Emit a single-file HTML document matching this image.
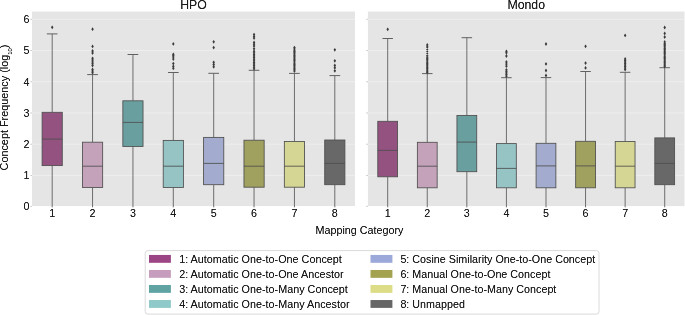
<!DOCTYPE html>
<html><head><meta charset="utf-8"><title>Concept Frequency by Mapping Category</title>
<style>
html,body{margin:0;padding:0;background:#fff;}
body{width:685px;height:315px;overflow:hidden;}
svg{display:block;will-change:transform;}
text{font-family:"Liberation Sans", sans-serif;fill:#1a1a1a;}
</style></head><body>
<svg width="685" height="315" viewBox="0 0 685 315">
<rect x="0" y="0" width="685" height="315" fill="#ffffff"/>
<defs><filter id="ink" filterUnits="userSpaceOnUse" x="0" y="0" width="685" height="315" color-interpolation-filters="sRGB"><feComponentTransfer><feFuncA type="table" tableValues="0 0.16 0.52 0.8 0.95 1"/></feComponentTransfer></filter></defs>

<rect x="32.0" y="11.55" width="323.0" height="194.55" fill="#e5e5e5"/>
<line x1="32.0" x2="355.0" y1="175.46" y2="175.46" stroke="#eeeeee" stroke-width="1"/>
<line x1="32.0" x2="355.0" y1="144.22" y2="144.22" stroke="#eeeeee" stroke-width="1"/>
<line x1="32.0" x2="355.0" y1="112.98" y2="112.98" stroke="#eeeeee" stroke-width="1"/>
<line x1="32.0" x2="355.0" y1="81.74" y2="81.74" stroke="#eeeeee" stroke-width="1"/>
<line x1="32.0" x2="355.0" y1="50.50" y2="50.50" stroke="#eeeeee" stroke-width="1"/>
<line x1="32.0" x2="355.0" y1="19.26" y2="19.26" stroke="#eeeeee" stroke-width="1"/>
<line x1="30.50" x2="31.80" y1="206.40" y2="206.40" stroke="#a8a8a8" stroke-width="0.8"/>
<line x1="30.50" x2="31.80" y1="175.46" y2="175.46" stroke="#a8a8a8" stroke-width="0.8"/>
<line x1="30.50" x2="31.80" y1="144.22" y2="144.22" stroke="#a8a8a8" stroke-width="0.8"/>
<line x1="30.50" x2="31.80" y1="112.98" y2="112.98" stroke="#a8a8a8" stroke-width="0.8"/>
<line x1="30.50" x2="31.80" y1="81.74" y2="81.74" stroke="#a8a8a8" stroke-width="0.8"/>
<line x1="30.50" x2="31.80" y1="50.50" y2="50.50" stroke="#a8a8a8" stroke-width="0.8"/>
<line x1="30.50" x2="31.80" y1="19.26" y2="19.26" stroke="#a8a8a8" stroke-width="0.8"/>
<line x1="52.19" x2="52.19" y1="33.9" y2="112.3" stroke="#606060" stroke-width="0.9"/>
<line x1="52.19" x2="52.19" y1="165.6" y2="207.29999999999998" stroke="#606060" stroke-width="0.9"/>
<line x1="46.84" x2="57.53" y1="33.9" y2="33.9" stroke="#606060" stroke-width="1"/>
<rect x="42.09" y="112.3" width="20.19" height="53.30" fill="#93527f" stroke="#4e4e4e" stroke-width="0.85"/>
<line x1="42.09" x2="62.28" y1="139.1" y2="139.1" stroke="#4e4e4e" stroke-width="0.85"/>
<path d="M52.19 25.40L53.44 27.30L52.19 29.20L50.94 27.30Z" fill="#3a3a3a"/>
<line x1="92.56" x2="92.56" y1="74.6" y2="142.2" stroke="#606060" stroke-width="0.9"/>
<line x1="92.56" x2="92.56" y1="187.5" y2="207.29999999999998" stroke="#606060" stroke-width="0.9"/>
<line x1="87.22" x2="97.91" y1="74.6" y2="74.6" stroke="#606060" stroke-width="1"/>
<rect x="82.47" y="142.2" width="20.19" height="45.30" fill="#c4a2ba" stroke="#4e4e4e" stroke-width="0.85"/>
<line x1="82.47" x2="102.66" y1="166.2" y2="166.2" stroke="#4e4e4e" stroke-width="0.85"/>
<path d="M92.56 27.30L93.81 29.20L92.56 31.10L91.31 29.20ZM92.56 44.50L93.81 46.40L92.56 48.30L91.31 46.40ZM92.56 49.10L93.81 51.00L92.56 52.90L91.31 51.00ZM92.56 51.10L93.81 53.00L92.56 54.90L91.31 53.00ZM92.56 56.40L93.81 58.30L92.56 60.20L91.31 58.30ZM92.56 58.20L93.81 60.10L92.56 62.00L91.31 60.10ZM92.56 60.00L93.81 61.90L92.56 63.80L91.31 61.90ZM92.56 61.80L93.81 63.70L92.56 65.60L91.31 63.70ZM92.56 63.60L93.81 65.50L92.56 67.40L91.31 65.50ZM92.56 67.60L93.81 69.50L92.56 71.40L91.31 69.50ZM92.56 69.20L93.81 71.10L92.56 73.00L91.31 71.10ZM92.56 70.80L93.81 72.70L92.56 74.60L91.31 72.70Z" fill="#3a3a3a"/>
<line x1="132.94" x2="132.94" y1="54.5" y2="100.8" stroke="#606060" stroke-width="0.9"/>
<line x1="132.94" x2="132.94" y1="146.5" y2="207.29999999999998" stroke="#606060" stroke-width="0.9"/>
<line x1="127.59" x2="138.28" y1="54.5" y2="54.5" stroke="#606060" stroke-width="1"/>
<rect x="122.84" y="100.8" width="20.19" height="45.70" fill="#6a9fa0" stroke="#4e4e4e" stroke-width="0.85"/>
<line x1="122.84" x2="143.03" y1="122.4" y2="122.4" stroke="#4e4e4e" stroke-width="0.85"/>
<line x1="173.31" x2="173.31" y1="72.5" y2="140.4" stroke="#606060" stroke-width="0.9"/>
<line x1="173.31" x2="173.31" y1="187.5" y2="207.29999999999998" stroke="#606060" stroke-width="0.9"/>
<line x1="167.97" x2="178.66" y1="72.5" y2="72.5" stroke="#606060" stroke-width="1"/>
<rect x="163.22" y="140.4" width="20.19" height="47.10" fill="#96c4c4" stroke="#4e4e4e" stroke-width="0.85"/>
<line x1="163.22" x2="183.41" y1="166.2" y2="166.2" stroke="#4e4e4e" stroke-width="0.85"/>
<path d="M173.31 42.00L174.56 43.90L173.31 45.80L172.06 43.90ZM173.31 52.40L174.56 54.30L173.31 56.20L172.06 54.30ZM173.31 53.70L174.56 55.60L173.31 57.50L172.06 55.60ZM173.31 55.00L174.56 56.90L173.31 58.80L172.06 56.90ZM173.31 57.20L174.56 59.10L173.31 61.00L172.06 59.10ZM173.31 61.70L174.56 63.60L173.31 65.50L172.06 63.60ZM173.31 64.40L174.56 66.30L173.31 68.20L172.06 66.30ZM173.31 66.40L174.56 68.30L173.31 70.20L172.06 68.30Z" fill="#3a3a3a"/>
<line x1="213.69" x2="213.69" y1="73.3" y2="137.4" stroke="#606060" stroke-width="0.9"/>
<line x1="213.69" x2="213.69" y1="184.7" y2="207.29999999999998" stroke="#606060" stroke-width="0.9"/>
<line x1="208.34" x2="219.03" y1="73.3" y2="73.3" stroke="#606060" stroke-width="1"/>
<rect x="203.59" y="137.4" width="20.19" height="47.30" fill="#a3acce" stroke="#4e4e4e" stroke-width="0.85"/>
<line x1="203.59" x2="223.78" y1="163.4" y2="163.4" stroke="#4e4e4e" stroke-width="0.85"/>
<path d="M213.69 39.90L214.94 41.80L213.69 43.70L212.44 41.80ZM213.69 45.70L214.94 47.60L213.69 49.50L212.44 47.60ZM213.69 60.40L214.94 62.30L213.69 64.20L212.44 62.30ZM213.69 62.60L214.94 64.50L213.69 66.40L212.44 64.50ZM213.69 64.90L214.94 66.80L213.69 68.70L212.44 66.80Z" fill="#3a3a3a"/>
<line x1="254.06" x2="254.06" y1="70.3" y2="140.2" stroke="#606060" stroke-width="0.9"/>
<line x1="254.06" x2="254.06" y1="187.2" y2="207.29999999999998" stroke="#606060" stroke-width="0.9"/>
<line x1="248.72" x2="259.41" y1="70.3" y2="70.3" stroke="#606060" stroke-width="1"/>
<rect x="243.97" y="140.2" width="20.19" height="47.00" fill="#a0a05f" stroke="#4e4e4e" stroke-width="0.85"/>
<line x1="243.97" x2="264.16" y1="166.2" y2="166.2" stroke="#4e4e4e" stroke-width="0.85"/>
<path d="M254.06 32.70L255.31 34.60L254.06 36.50L252.81 34.60ZM254.06 34.50L255.31 36.40L254.06 38.30L252.81 36.40ZM254.06 36.20L255.31 38.10L254.06 40.00L252.81 38.10ZM254.06 40.60L255.31 42.50L254.06 44.40L252.81 42.50ZM254.06 42.30L255.31 44.20L254.06 46.10L252.81 44.20ZM254.06 44.10L255.31 46.00L254.06 47.90L252.81 46.00ZM254.06 46.90L255.31 48.80L254.06 50.70L252.81 48.80ZM254.06 49.30L255.31 51.20L254.06 53.10L252.81 51.20ZM254.06 50.90L255.31 52.80L254.06 54.70L252.81 52.80ZM254.06 52.50L255.31 54.40L254.06 56.30L252.81 54.40ZM254.06 54.10L255.31 56.00L254.06 57.90L252.81 56.00ZM254.06 55.70L255.31 57.60L254.06 59.50L252.81 57.60ZM254.06 57.30L255.31 59.20L254.06 61.10L252.81 59.20ZM254.06 58.90L255.31 60.80L254.06 62.70L252.81 60.80ZM254.06 60.50L255.31 62.40L254.06 64.30L252.81 62.40ZM254.06 62.10L255.31 64.00L254.06 65.90L252.81 64.00ZM254.06 63.70L255.31 65.60L254.06 67.50L252.81 65.60ZM254.06 65.30L255.31 67.20L254.06 69.10L252.81 67.20ZM254.06 66.90L255.31 68.80L254.06 70.70L252.81 68.80Z" fill="#3a3a3a"/>
<line x1="294.44" x2="294.44" y1="73.4" y2="141.5" stroke="#606060" stroke-width="0.9"/>
<line x1="294.44" x2="294.44" y1="187.2" y2="207.29999999999998" stroke="#606060" stroke-width="0.9"/>
<line x1="289.09" x2="299.78" y1="73.4" y2="73.4" stroke="#606060" stroke-width="1"/>
<rect x="284.34" y="141.5" width="20.19" height="45.70" fill="#d5d693" stroke="#4e4e4e" stroke-width="0.85"/>
<line x1="284.34" x2="304.53" y1="166.2" y2="166.2" stroke="#4e4e4e" stroke-width="0.85"/>
<path d="M294.44 45.70L295.69 47.60L294.44 49.50L293.19 47.60ZM294.44 47.00L295.69 48.90L294.44 50.80L293.19 48.90ZM294.44 48.30L295.69 50.20L294.44 52.10L293.19 50.20ZM294.44 49.60L295.69 51.50L294.44 53.40L293.19 51.50ZM294.44 50.90L295.69 52.80L294.44 54.70L293.19 52.80ZM294.44 52.20L295.69 54.10L294.44 56.00L293.19 54.10ZM294.44 53.50L295.69 55.40L294.44 57.30L293.19 55.40ZM294.44 54.80L295.69 56.70L294.44 58.60L293.19 56.70ZM294.44 56.10L295.69 58.00L294.44 59.90L293.19 58.00ZM294.44 57.40L295.69 59.30L294.44 61.20L293.19 59.30ZM294.44 58.70L295.69 60.60L294.44 62.50L293.19 60.60ZM294.44 60.00L295.69 61.90L294.44 63.80L293.19 61.90ZM294.44 61.30L295.69 63.20L294.44 65.10L293.19 63.20ZM294.44 62.60L295.69 64.50L294.44 66.40L293.19 64.50ZM294.44 63.90L295.69 65.80L294.44 67.70L293.19 65.80ZM294.44 65.20L295.69 67.10L294.44 69.00L293.19 67.10ZM294.44 66.50L295.69 68.40L294.44 70.30L293.19 68.40ZM294.44 67.80L295.69 69.70L294.44 71.60L293.19 69.70ZM294.44 69.10L295.69 71.00L294.44 72.90L293.19 71.00Z" fill="#3a3a3a"/>
<line x1="334.81" x2="334.81" y1="75.6" y2="140.0" stroke="#606060" stroke-width="0.9"/>
<line x1="334.81" x2="334.81" y1="184.7" y2="207.29999999999998" stroke="#606060" stroke-width="0.9"/>
<line x1="329.47" x2="340.16" y1="75.6" y2="75.6" stroke="#606060" stroke-width="1"/>
<rect x="324.72" y="140.0" width="20.19" height="44.70" fill="#686868" stroke="#4e4e4e" stroke-width="0.85"/>
<line x1="324.72" x2="344.91" y1="163.4" y2="163.4" stroke="#4e4e4e" stroke-width="0.85"/>
<path d="M334.81 47.90L336.06 49.80L334.81 51.70L333.56 49.80ZM334.81 58.90L336.06 60.80L334.81 62.70L333.56 60.80ZM334.81 63.60L336.06 65.50L334.81 67.40L333.56 65.50ZM334.81 65.90L336.06 67.80L334.81 69.70L333.56 67.80ZM334.81 68.90L336.06 70.80L334.81 72.70L333.56 70.80Z" fill="#3a3a3a"/>
<rect x="367.9" y="11.55" width="316.6" height="194.55" fill="#e5e5e5"/>
<line x1="367.9" x2="684.5" y1="175.46" y2="175.46" stroke="#eeeeee" stroke-width="1"/>
<line x1="367.9" x2="684.5" y1="144.22" y2="144.22" stroke="#eeeeee" stroke-width="1"/>
<line x1="367.9" x2="684.5" y1="112.98" y2="112.98" stroke="#eeeeee" stroke-width="1"/>
<line x1="367.9" x2="684.5" y1="81.74" y2="81.74" stroke="#eeeeee" stroke-width="1"/>
<line x1="367.9" x2="684.5" y1="50.50" y2="50.50" stroke="#eeeeee" stroke-width="1"/>
<line x1="367.9" x2="684.5" y1="19.26" y2="19.26" stroke="#eeeeee" stroke-width="1"/>
<line x1="366.40" x2="367.70" y1="206.40" y2="206.40" stroke="#a8a8a8" stroke-width="0.8"/>
<line x1="366.40" x2="367.70" y1="175.46" y2="175.46" stroke="#a8a8a8" stroke-width="0.8"/>
<line x1="366.40" x2="367.70" y1="144.22" y2="144.22" stroke="#a8a8a8" stroke-width="0.8"/>
<line x1="366.40" x2="367.70" y1="112.98" y2="112.98" stroke="#a8a8a8" stroke-width="0.8"/>
<line x1="366.40" x2="367.70" y1="81.74" y2="81.74" stroke="#a8a8a8" stroke-width="0.8"/>
<line x1="366.40" x2="367.70" y1="50.50" y2="50.50" stroke="#a8a8a8" stroke-width="0.8"/>
<line x1="366.40" x2="367.70" y1="19.26" y2="19.26" stroke="#a8a8a8" stroke-width="0.8"/>
<line x1="387.69" x2="387.69" y1="38.5" y2="121.3" stroke="#606060" stroke-width="0.9"/>
<line x1="387.69" x2="387.69" y1="176.8" y2="207.29999999999998" stroke="#606060" stroke-width="0.9"/>
<line x1="382.44" x2="392.93" y1="38.5" y2="38.5" stroke="#606060" stroke-width="1"/>
<rect x="377.79" y="121.3" width="19.79" height="55.50" fill="#93527f" stroke="#4e4e4e" stroke-width="0.85"/>
<line x1="377.79" x2="397.58" y1="150.4" y2="150.4" stroke="#4e4e4e" stroke-width="0.85"/>
<path d="M387.69 27.40L388.94 29.30L387.69 31.20L386.44 29.30Z" fill="#3a3a3a"/>
<line x1="427.26" x2="427.26" y1="73.6" y2="142.3" stroke="#606060" stroke-width="0.9"/>
<line x1="427.26" x2="427.26" y1="187.8" y2="207.29999999999998" stroke="#606060" stroke-width="0.9"/>
<line x1="422.02" x2="432.51" y1="73.6" y2="73.6" stroke="#606060" stroke-width="1"/>
<rect x="417.37" y="142.3" width="19.79" height="45.50" fill="#c4a2ba" stroke="#4e4e4e" stroke-width="0.85"/>
<line x1="417.37" x2="437.16" y1="166.2" y2="166.2" stroke="#4e4e4e" stroke-width="0.85"/>
<path d="M427.26 43.00L428.51 44.90L427.26 46.80L426.01 44.90ZM427.26 45.10L428.51 47.00L427.26 48.90L426.01 47.00ZM427.26 47.10L428.51 49.00L427.26 50.90L426.01 49.00ZM427.26 49.10L428.51 51.00L427.26 52.90L426.01 51.00ZM427.26 51.20L428.51 53.10L427.26 55.00L426.01 53.10ZM427.26 53.30L428.51 55.20L427.26 57.10L426.01 55.20ZM427.26 55.10L428.51 57.00L427.26 58.90L426.01 57.00ZM427.26 56.40L428.51 58.30L427.26 60.20L426.01 58.30ZM427.26 57.70L428.51 59.60L427.26 61.50L426.01 59.60ZM427.26 59.00L428.51 60.90L427.26 62.80L426.01 60.90ZM427.26 60.30L428.51 62.20L427.26 64.10L426.01 62.20ZM427.26 61.60L428.51 63.50L427.26 65.40L426.01 63.50ZM427.26 62.90L428.51 64.80L427.26 66.70L426.01 64.80ZM427.26 64.20L428.51 66.10L427.26 68.00L426.01 66.10ZM427.26 65.50L428.51 67.40L427.26 69.30L426.01 67.40ZM427.26 66.80L428.51 68.70L427.26 70.60L426.01 68.70ZM427.26 68.10L428.51 70.00L427.26 71.90L426.01 70.00ZM427.26 69.40L428.51 71.30L427.26 73.20L426.01 71.30ZM427.26 70.70L428.51 72.60L427.26 74.50L426.01 72.60Z" fill="#3a3a3a"/>
<line x1="466.84" x2="466.84" y1="37.7" y2="115.5" stroke="#606060" stroke-width="0.9"/>
<line x1="466.84" x2="466.84" y1="171.7" y2="207.29999999999998" stroke="#606060" stroke-width="0.9"/>
<line x1="461.59" x2="472.08" y1="37.7" y2="37.7" stroke="#606060" stroke-width="1"/>
<rect x="456.94" y="115.5" width="19.79" height="56.20" fill="#6a9fa0" stroke="#4e4e4e" stroke-width="0.85"/>
<line x1="456.94" x2="476.73" y1="142.1" y2="142.1" stroke="#4e4e4e" stroke-width="0.85"/>
<line x1="506.41" x2="506.41" y1="77.7" y2="143.6" stroke="#606060" stroke-width="0.9"/>
<line x1="506.41" x2="506.41" y1="187.8" y2="207.29999999999998" stroke="#606060" stroke-width="0.9"/>
<line x1="501.17" x2="511.66" y1="77.7" y2="77.7" stroke="#606060" stroke-width="1"/>
<rect x="496.52" y="143.6" width="19.79" height="44.20" fill="#96c4c4" stroke="#4e4e4e" stroke-width="0.85"/>
<line x1="496.52" x2="516.31" y1="168.4" y2="168.4" stroke="#4e4e4e" stroke-width="0.85"/>
<path d="M506.41 49.40L507.66 51.30L506.41 53.20L505.16 51.30ZM506.41 50.90L507.66 52.80L506.41 54.70L505.16 52.80ZM506.41 54.10L507.66 56.00L506.41 57.90L505.16 56.00ZM506.41 60.10L507.66 62.00L506.41 63.90L505.16 62.00ZM506.41 62.20L507.66 64.10L506.41 66.00L505.16 64.10ZM506.41 64.30L507.66 66.20L506.41 68.10L505.16 66.20ZM506.41 67.90L507.66 69.80L506.41 71.70L505.16 69.80ZM506.41 69.50L507.66 71.40L506.41 73.30L505.16 71.40ZM506.41 71.10L507.66 73.00L506.41 74.90L505.16 73.00ZM506.41 72.70L507.66 74.60L506.41 76.50L505.16 74.60ZM506.41 74.30L507.66 76.20L506.41 78.10L505.16 76.20Z" fill="#3a3a3a"/>
<line x1="545.99" x2="545.99" y1="77.6" y2="143.3" stroke="#606060" stroke-width="0.9"/>
<line x1="545.99" x2="545.99" y1="187.8" y2="207.29999999999998" stroke="#606060" stroke-width="0.9"/>
<line x1="540.74" x2="551.23" y1="77.6" y2="77.6" stroke="#606060" stroke-width="1"/>
<rect x="536.09" y="143.3" width="19.79" height="44.50" fill="#a3acce" stroke="#4e4e4e" stroke-width="0.85"/>
<line x1="536.09" x2="555.88" y1="165.9" y2="165.9" stroke="#4e4e4e" stroke-width="0.85"/>
<path d="M545.99 42.10L547.24 44.00L545.99 45.90L544.74 44.00ZM545.99 62.00L547.24 63.90L545.99 65.80L544.74 63.90ZM545.99 68.60L547.24 70.50L545.99 72.40L544.74 70.50ZM545.99 73.60L547.24 75.50L545.99 77.40L544.74 75.50Z" fill="#3a3a3a"/>
<line x1="585.56" x2="585.56" y1="71.5" y2="141.3" stroke="#606060" stroke-width="0.9"/>
<line x1="585.56" x2="585.56" y1="187.8" y2="207.29999999999998" stroke="#606060" stroke-width="0.9"/>
<line x1="580.32" x2="590.81" y1="71.5" y2="71.5" stroke="#606060" stroke-width="1"/>
<rect x="575.67" y="141.3" width="19.79" height="46.50" fill="#a0a05f" stroke="#4e4e4e" stroke-width="0.85"/>
<line x1="575.67" x2="595.46" y1="165.9" y2="165.9" stroke="#4e4e4e" stroke-width="0.85"/>
<path d="M585.56 44.40L586.81 46.30L585.56 48.20L584.31 46.30ZM585.56 61.20L586.81 63.10L585.56 65.00L584.31 63.10ZM585.56 66.00L586.81 67.90L585.56 69.80L584.31 67.90Z" fill="#3a3a3a"/>
<line x1="625.14" x2="625.14" y1="72.3" y2="141.5" stroke="#606060" stroke-width="0.9"/>
<line x1="625.14" x2="625.14" y1="187.8" y2="207.29999999999998" stroke="#606060" stroke-width="0.9"/>
<line x1="619.89" x2="630.38" y1="72.3" y2="72.3" stroke="#606060" stroke-width="1"/>
<rect x="615.24" y="141.5" width="19.79" height="46.30" fill="#d5d693" stroke="#4e4e4e" stroke-width="0.85"/>
<line x1="615.24" x2="635.03" y1="166.2" y2="166.2" stroke="#4e4e4e" stroke-width="0.85"/>
<path d="M625.14 33.50L626.39 35.40L625.14 37.30L623.89 35.40ZM625.14 57.10L626.39 59.00L625.14 60.90L623.89 59.00ZM625.14 58.60L626.39 60.50L625.14 62.40L623.89 60.50ZM625.14 60.10L626.39 62.00L625.14 63.90L623.89 62.00ZM625.14 61.60L626.39 63.50L625.14 65.40L623.89 63.50ZM625.14 63.10L626.39 65.00L625.14 66.90L623.89 65.00ZM625.14 64.60L626.39 66.50L625.14 68.40L623.89 66.50ZM625.14 66.10L626.39 68.00L625.14 69.90L623.89 68.00ZM625.14 67.60L626.39 69.50L625.14 71.40L623.89 69.50Z" fill="#3a3a3a"/>
<line x1="664.71" x2="664.71" y1="67.7" y2="137.9" stroke="#606060" stroke-width="0.9"/>
<line x1="664.71" x2="664.71" y1="184.7" y2="207.29999999999998" stroke="#606060" stroke-width="0.9"/>
<line x1="659.47" x2="669.96" y1="67.7" y2="67.7" stroke="#606060" stroke-width="1"/>
<rect x="654.82" y="137.9" width="19.79" height="46.80" fill="#686868" stroke="#4e4e4e" stroke-width="0.85"/>
<line x1="654.82" x2="674.61" y1="163.4" y2="163.4" stroke="#4e4e4e" stroke-width="0.85"/>
<path d="M664.71 25.60L665.96 27.50L664.71 29.40L663.46 27.50ZM664.71 31.50L665.96 33.40L664.71 35.30L663.46 33.40ZM664.71 35.10L665.96 37.00L664.71 38.90L663.46 37.00ZM664.71 40.00L665.96 41.90L664.71 43.80L663.46 41.90ZM664.71 41.30L665.96 43.20L664.71 45.10L663.46 43.20ZM664.71 42.60L665.96 44.50L664.71 46.40L663.46 44.50ZM664.71 43.90L665.96 45.80L664.71 47.70L663.46 45.80ZM664.71 45.20L665.96 47.10L664.71 49.00L663.46 47.10ZM664.71 46.50L665.96 48.40L664.71 50.30L663.46 48.40ZM664.71 47.80L665.96 49.70L664.71 51.60L663.46 49.70ZM664.71 49.10L665.96 51.00L664.71 52.90L663.46 51.00ZM664.71 50.40L665.96 52.30L664.71 54.20L663.46 52.30ZM664.71 51.70L665.96 53.60L664.71 55.50L663.46 53.60ZM664.71 53.00L665.96 54.90L664.71 56.80L663.46 54.90ZM664.71 54.30L665.96 56.20L664.71 58.10L663.46 56.20ZM664.71 55.60L665.96 57.50L664.71 59.40L663.46 57.50ZM664.71 56.90L665.96 58.80L664.71 60.70L663.46 58.80ZM664.71 58.20L665.96 60.10L664.71 62.00L663.46 60.10ZM664.71 59.50L665.96 61.40L664.71 63.30L663.46 61.40ZM664.71 60.80L665.96 62.70L664.71 64.60L663.46 62.70ZM664.71 62.10L665.96 64.00L664.71 65.90L663.46 64.00ZM664.71 63.40L665.96 65.30L664.71 67.20L663.46 65.30ZM664.71 64.70L665.96 66.60L664.71 68.50L663.46 66.60Z" fill="#3a3a3a"/>
<rect x="145.2" y="250.6" width="453.8" height="63.5" rx="2.6" ry="2.6" fill="#ffffff" stroke="#dadada" stroke-width="1"/>
<rect x="149.0" y="254.95" width="21.9" height="7.85" fill="#9c4585"/>
<rect x="149.0" y="269.98" width="21.9" height="7.85" fill="#c79dbd"/>
<rect x="149.0" y="285.01" width="21.9" height="7.85" fill="#5fa3a3"/>
<rect x="149.0" y="300.04" width="21.9" height="7.85" fill="#8fc9c9"/>
<rect x="370.5" y="254.95" width="21.9" height="7.85" fill="#9aa9d9"/>
<rect x="370.5" y="269.98" width="21.9" height="7.85" fill="#a3a34f"/>
<rect x="370.5" y="285.01" width="21.9" height="7.85" fill="#dcdd86"/>
<rect x="370.5" y="300.04" width="21.9" height="7.85" fill="#666666"/>
<g filter="url(#ink)">
<text x="29.4" y="210.28" font-size="10.75" text-anchor="end">0</text>
<text x="29.4" y="179.10" font-size="10.75" text-anchor="end">1</text>
<text x="29.4" y="147.92" font-size="10.75" text-anchor="end">2</text>
<text x="29.4" y="116.74" font-size="10.75" text-anchor="end">3</text>
<text x="29.4" y="85.56" font-size="10.75" text-anchor="end">4</text>
<text x="29.4" y="54.38" font-size="10.75" text-anchor="end">5</text>
<text x="29.4" y="23.20" font-size="10.75" text-anchor="end">6</text>
<text x="193.50" y="9.25" font-size="12.3" text-anchor="middle">HPO</text>
<text x="52.19" y="217.3" font-size="10.75" text-anchor="middle">1</text>
<text x="92.56" y="217.3" font-size="10.75" text-anchor="middle">2</text>
<text x="132.94" y="217.3" font-size="10.75" text-anchor="middle">3</text>
<text x="173.31" y="217.3" font-size="10.75" text-anchor="middle">4</text>
<text x="213.69" y="217.3" font-size="10.75" text-anchor="middle">5</text>
<text x="254.06" y="217.3" font-size="10.75" text-anchor="middle">6</text>
<text x="294.44" y="217.3" font-size="10.75" text-anchor="middle">7</text>
<text x="334.81" y="217.3" font-size="10.75" text-anchor="middle">8</text>
<text x="526.20" y="9.25" font-size="12.3" text-anchor="middle">Mondo</text>
<text x="387.69" y="217.3" font-size="10.75" text-anchor="middle">1</text>
<text x="427.26" y="217.3" font-size="10.75" text-anchor="middle">2</text>
<text x="466.84" y="217.3" font-size="10.75" text-anchor="middle">3</text>
<text x="506.41" y="217.3" font-size="10.75" text-anchor="middle">4</text>
<text x="545.99" y="217.3" font-size="10.75" text-anchor="middle">5</text>
<text x="585.56" y="217.3" font-size="10.75" text-anchor="middle">6</text>
<text x="625.14" y="217.3" font-size="10.75" text-anchor="middle">7</text>
<text x="664.71" y="217.3" font-size="10.75" text-anchor="middle">8</text>
<text x="359.5" y="233.6" font-size="10.75" text-anchor="middle">Mapping Category</text>
<text transform="translate(8.1 107.5) rotate(-90)" font-size="10.85" text-anchor="middle">Concept Frequency (log<tspan font-size="5.9" dy="4.3">10</tspan><tspan dy="-4.3">)</tspan></text>
<text x="179.2" y="262.75" font-size="10.8">1: Automatic One-to-One Concept</text>
<text x="179.2" y="277.78" font-size="10.8">2: Automatic One-to-One Ancestor</text>
<text x="179.2" y="292.81" font-size="10.8">3: Automatic One-to-Many Concept</text>
<text x="179.2" y="307.84" font-size="10.8">4: Automatic One-to-Many Ancestor</text>
<text x="400.4" y="262.75" font-size="10.76">5: Cosine Similarity One-to-One Concept</text>
<text x="400.4" y="277.78" font-size="10.76">6: Manual One-to-One Concept</text>
<text x="400.4" y="292.81" font-size="10.76">7: Manual One-to-Many Concept</text>
<text x="400.4" y="307.84" font-size="10.76">8: Unmapped</text>
</g>
</svg></body></html>
